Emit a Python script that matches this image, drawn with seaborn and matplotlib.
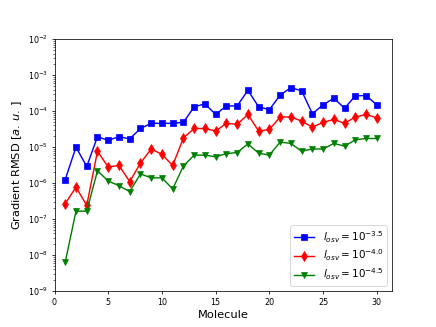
import numpy as np
import pandas as pd
import matplotlib
matplotlib.use("Agg")
import matplotlib.pyplot as plt
import seaborn as sns

molecules = list(range(1, 31))
rmsd_35 = [1.26e-6, 1.0e-5, 2.9e-6, 1.95e-5, 1.55e-5, 1.95e-5, 1.7e-5, 3.3e-5, 4.6e-5, 4.6e-5,
           4.6e-5, 4.9e-5, 1.32e-4, 1.6e-4, 8.1e-5, 1.4e-4, 1.4e-4, 3.8e-4, 1.32e-4, 1.1e-4,
           2.8e-4, 4.5e-4, 3.7e-4, 8.5e-5, 1.5e-4, 2.3e-4, 1.2e-4, 2.7e-4, 2.7e-4, 1.5e-4]
rmsd_40 = [2.7e-7, 7.7e-7, 2.4e-7, 7.7e-6, 2.8e-6, 3.1e-6, 1.1e-6, 3.6e-6, 8.9e-6, 6.3e-6,
           3.1e-6, 1.8e-5, 3.3e-5, 3.3e-5, 2.8e-5, 4.6e-5, 4.3e-5, 8.1e-5, 2.8e-5, 3.1e-5,
           6.9e-5, 6.9e-5, 5.3e-5, 3.6e-5, 4.9e-5, 5.9e-5, 4.6e-5, 6.9e-5, 8.1e-5, 6.5e-5]
rmsd_45 = [6.4e-9, 1.66e-7, 1.66e-7, 2.2e-6, 1.14e-6, 8.5e-7, 5.8e-7, 1.8e-6, 1.4e-6, 1.4e-6,
           6.9e-7, 3.0e-6, 6.0e-6, 6.0e-6, 5.4e-6, 6.6e-6, 7.1e-6, 1.23e-5, 6.8e-6, 6.0e-6,
           1.38e-5, 1.27e-5, 7.7e-6, 8.9e-6, 8.9e-6, 1.27e-5, 1.07e-5, 1.6e-5, 1.74e-5, 1.74e-5]
labels = [r"$l_{osv} = 10^{-3.5}$", r"$l_{osv} = 10^{-4.0}$", r"$l_{osv} = 10^{-4.5}$"]

fig, ax = plt.subplots(figsize=(6.4, 4.8), dpi=68.125)
series = [rmsd_35, rmsd_40, rmsd_45]
colors = ["blue", "red", "green"]
markers = ["s", "d", "v"]
for vals, lab, c, m in zip(series, labels, colors, markers):
    df = pd.DataFrame({"Molecule": molecules, "RMSD": vals})
    sns.lineplot(data=df, x="Molecule", y="RMSD", ax=ax, color=c, marker=m,
                 markersize=7, markeredgecolor=c, label=lab, linewidth=1.5)

ax.set_yscale("log")
ax.set_ylim(1e-9, 1e-2)
ax.set_xlim(left=0)
ax.set_xticks([0, 5, 10, 15, 20, 25, 30])
ax.tick_params(labelsize=8.5)
ax.set_xlabel("Molecule", fontsize=12)
ax.set_ylabel(r"Gradient RMSD [$a.\,u.\,$]", fontsize=12)
ax.legend(loc="lower right", fontsize=11, labelspacing=0.3, borderpad=0.35)
fig.savefig("out.png", dpi=68.125)
